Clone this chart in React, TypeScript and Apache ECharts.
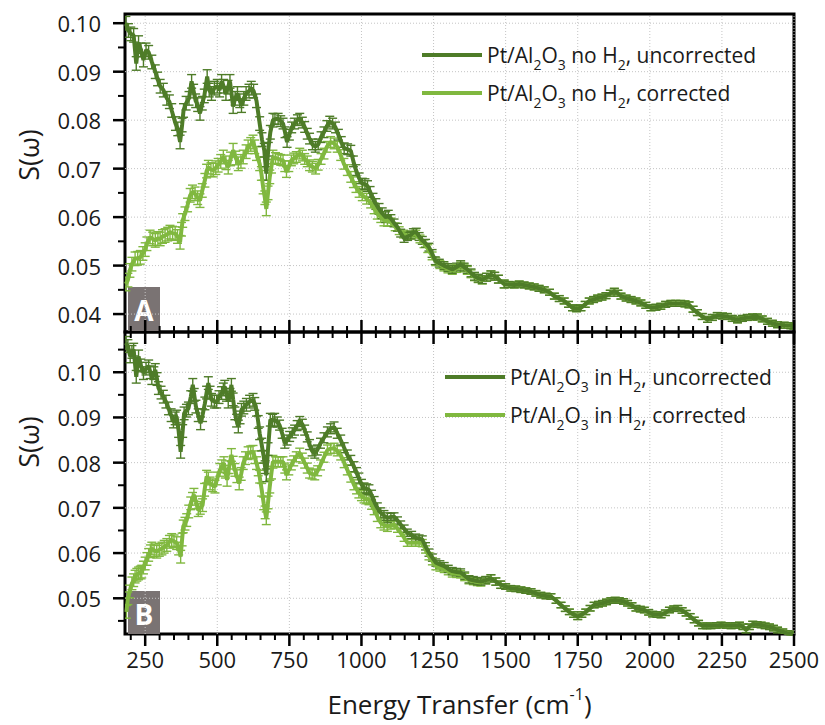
import React, { useEffect, useRef } from "react";
import * as echarts from "echarts";

type Pt = [number, number];

const FONT = "'Open Sans', 'Noto Sans', sans-serif";
const DARK = "#4E7C28";
const LIGHT = "#80B83F";
const INK = "#1a1a1a";

// Axis ranges and tick values
const xRange: Pt = [180, 2500];
const yRangeA: Pt = [0.0363, 0.1019];
const yRangeB: Pt = [0.0421, 0.1089];
const xTicks = [250, 500, 750, 1000, 1250, 1500, 1750, 2000, 2250, 2500];
const xMinorTicks = [
  200, 300, 350, 400, 450, 550, 600, 650, 700, 800, 850, 900, 950, 1050, 1100, 1150, 1200,
  1300, 1350, 1400, 1450, 1550, 1600, 1650, 1700, 1800, 1850, 1900, 1950, 2050, 2100, 2150,
  2200, 2300, 2350, 2400, 2450,
];
const yTicksA = [0.04, 0.05, 0.06, 0.07, 0.08, 0.09, 0.1];
const yMinorTicksA = [0.045, 0.055, 0.065, 0.075, 0.085, 0.095];
const yTicksB = [0.05, 0.06, 0.07, 0.08, 0.09, 0.1];
const yMinorTicksB = [0.045, 0.055, 0.065, 0.075, 0.085, 0.095, 0.105];

// Error-bar half widths by energy band: [band start (cm-1), sigma]
const errorBands: Pt[] = [
  [180, 0.0014],
  [700, 0.0011],
  [1100, 0.0008],
  [1500, 0.0006],
];

const namesA = ["Pt/Al2O3 no H2, uncorrected", "Pt/Al2O3 no H2, corrected"];
const namesB = ["Pt/Al2O3 in H2, uncorrected", "Pt/Al2O3 in H2, corrected"];
const legendLabels: Record<string, string> = {
  "Pt/Al2O3 no H2, uncorrected": "Pt/Al{sub|2}O{sub|3} no H{sub|2}, uncorrected",
  "Pt/Al2O3 no H2, corrected": "Pt/Al{sub|2}O{sub|3} no H{sub|2}, corrected",
  "Pt/Al2O3 in H2, uncorrected": "Pt/Al{sub|2}O{sub|3} in H{sub|2}, uncorrected",
  "Pt/Al2O3 in H2, corrected": "Pt/Al{sub|2}O{sub|3} in H{sub|2}, corrected",
};

// Panel A: Pt/Al2O3 without H2
const aUncorrectedHead: Pt[] = [
  [183, 0.1], [192, 0.0985], [200, 0.0978], [210, 0.0975], [219, 0.0917], [227, 0.096],
  [235, 0.0945], [244, 0.0924], [253, 0.0945], [262, 0.094], [273, 0.092], [285, 0.09],
  [293, 0.0885], [302, 0.087], [313, 0.0862], [325, 0.0845], [334, 0.0838], [342, 0.082],
  [355, 0.0793], [363, 0.0782], [371, 0.0755], [378, 0.079], [383, 0.082], [392, 0.0835],
  [402, 0.0845], [411, 0.088], [418, 0.086], [425, 0.084], [432, 0.0832], [440, 0.0814],
  [448, 0.0835], [455, 0.085], [465, 0.089], [472, 0.0862], [480, 0.0855], [490, 0.0866],
  [500, 0.087], [508, 0.0862], [515, 0.088], [522, 0.087], [530, 0.0855], [537, 0.0868],
  [544, 0.088], [555, 0.0828], [562, 0.0845], [570, 0.0855], [578, 0.084], [584, 0.083],
  [592, 0.0845], [600, 0.0855], [610, 0.086], [618, 0.0866], [626, 0.086], [636, 0.084],
  [647, 0.0793], [655, 0.076], [663, 0.0738], [670, 0.069], [677, 0.074], [684, 0.0775],
  [693, 0.08], [700, 0.0802], [711, 0.0803], [720, 0.0798], [728, 0.0793], [735, 0.0775],
  [742, 0.0755], [750, 0.077], [758, 0.0785], [768, 0.0793], [778, 0.08], [786, 0.0803],
  [795, 0.0795], [803, 0.0786], [812, 0.0772], [820, 0.0762], [830, 0.075], [840, 0.0745],
  [850, 0.075], [860, 0.0765], [870, 0.0775], [880, 0.0788], [890, 0.0797], [900, 0.0793],
  [910, 0.0785], [920, 0.077], [930, 0.0755], [940, 0.0742], [952, 0.074], [963, 0.0737],
  [972, 0.0715], [981, 0.0697], [992, 0.068], [1003, 0.0669], [1012, 0.0668], [1021, 0.0664],
  [1030, 0.0652], [1040, 0.0638], [1050, 0.0627], [1061, 0.0617], [1072, 0.0608], [1084, 0.06],
  [1093, 0.0603], [1102, 0.0597], [1113, 0.0588], [1125, 0.0579], [1136, 0.0567], [1148, 0.0556],
  [1160, 0.056], [1171, 0.0563], [1180, 0.0568], [1190, 0.0569], [1200, 0.056], [1211, 0.0552],
  [1222, 0.0546], [1234, 0.0538], [1245, 0.0525], [1256, 0.051], [1270, 0.0505], [1286, 0.05],
  [1300, 0.0496], [1315, 0.0492], [1330, 0.0497], [1344, 0.0502], [1356, 0.0497], [1367, 0.0492],
  [1380, 0.0485], [1392, 0.0478], [1405, 0.0474], [1419, 0.0471],
];
const aCorrectedHead: Pt[] = [
  [183, 0.0462], [190, 0.047], [197, 0.049], [204, 0.0503], [215, 0.0514], [224, 0.0515],
  [233, 0.0517], [242, 0.0525], [250, 0.0533], [256, 0.0545], [267, 0.0559], [276, 0.0555],
  [285, 0.0552], [294, 0.0556], [302, 0.0555], [310, 0.056], [319, 0.0562], [328, 0.0565],
  [336, 0.0569], [345, 0.0567], [354, 0.0566], [362, 0.056], [371, 0.0548], [376, 0.0575],
  [380, 0.0593], [388, 0.0607], [397, 0.0625], [406, 0.0645], [414, 0.0652], [423, 0.0648],
  [432, 0.064], [440, 0.0634], [448, 0.0655], [457, 0.0676], [463, 0.0695], [469, 0.0703],
  [478, 0.0698], [486, 0.0697], [495, 0.0702], [503, 0.0707], [512, 0.0715], [521, 0.0724],
  [530, 0.0712], [538, 0.0703], [546, 0.072], [555, 0.0738], [564, 0.0722], [573, 0.071],
  [582, 0.0715], [590, 0.0724], [600, 0.0735], [607, 0.0745], [616, 0.075], [624, 0.0755],
  [630, 0.0745], [636, 0.0731], [647, 0.071], [653, 0.069], [659, 0.0662], [665, 0.064],
  [670, 0.0617], [676, 0.065], [682, 0.0683], [688, 0.0705], [693, 0.0724], [702, 0.0722],
  [711, 0.072], [720, 0.0718], [728, 0.0717], [734, 0.0705], [740, 0.0693], [748, 0.0705],
  [757, 0.0717], [765, 0.0721], [774, 0.0724], [786, 0.0731], [795, 0.0727], [803, 0.072],
  [812, 0.0715], [820, 0.0707], [830, 0.0704], [841, 0.07], [850, 0.0708], [860, 0.072],
  [870, 0.0731], [880, 0.0745], [893, 0.0755], [905, 0.0752], [916, 0.0745], [928, 0.0728],
  [939, 0.071], [951, 0.0697], [963, 0.0683], [972, 0.0672], [981, 0.0662], [992, 0.0652],
  [1003, 0.0645], [1018, 0.0638], [1032, 0.063], [1044, 0.0618], [1055, 0.0607], [1067, 0.06],
  [1078, 0.0593], [1090, 0.0592], [1102, 0.059], [1117, 0.058], [1131, 0.0572], [1146, 0.0565],
  [1160, 0.0562], [1174, 0.0563], [1188, 0.0565], [1203, 0.0555], [1217, 0.0545], [1230, 0.0535],
  [1245, 0.052], [1258, 0.0508], [1272, 0.0502], [1286, 0.0497], [1300, 0.0493], [1315, 0.049],
  [1330, 0.0494], [1344, 0.0499], [1356, 0.0495], [1367, 0.049], [1380, 0.0483], [1392, 0.0477],
  [1405, 0.0473], [1419, 0.047],
];
// Above ~1430 cm-1 both spectra of panel A coincide
const aTail: Pt[] = [
  [1434, 0.0476], [1449, 0.0481], [1462, 0.0478], [1475, 0.0472], [1495, 0.0462], [1512, 0.0461],
  [1530, 0.046], [1547, 0.0462], [1564, 0.046], [1582, 0.0458], [1599, 0.0456], [1616, 0.0453],
  [1634, 0.045], [1652, 0.0445], [1669, 0.0437], [1686, 0.0432], [1703, 0.0427], [1718, 0.042],
  [1732, 0.0413], [1746, 0.0411], [1761, 0.0413], [1776, 0.042], [1790, 0.0427], [1805, 0.043],
  [1819, 0.0433], [1834, 0.0435], [1848, 0.0438], [1863, 0.0443], [1877, 0.0447], [1889, 0.0443],
  [1900, 0.0437], [1918, 0.0433], [1935, 0.043], [1952, 0.0427], [1969, 0.0423], [1986, 0.0418],
  [2004, 0.0413], [2021, 0.0414], [2038, 0.0416], [2055, 0.042], [2073, 0.0422], [2090, 0.0422],
  [2107, 0.0422], [2122, 0.0421], [2136, 0.0419], [2150, 0.041], [2165, 0.0403], [2182, 0.0395],
  [2200, 0.0389], [2217, 0.0393], [2234, 0.0397], [2252, 0.0396], [2269, 0.0395], [2286, 0.0391],
  [2304, 0.0388], [2321, 0.0391], [2338, 0.0393], [2356, 0.0394], [2373, 0.0394], [2390, 0.039],
  [2408, 0.0385], [2425, 0.0381], [2443, 0.0378], [2466, 0.0377], [2489, 0.0376], [2500, 0.0375],
];

// Panel B: Pt/Al2O3 in H2
const bUncorrectedHead: Pt[] = [
  [183, 0.1065], [190, 0.1058], [198, 0.1035], [204, 0.1045], [210, 0.105], [219, 0.099],
  [227, 0.1035], [235, 0.1015], [244, 0.0998], [253, 0.1008], [262, 0.1013], [268, 0.1],
  [273, 0.0987], [280, 0.0998], [285, 0.1005], [291, 0.0985], [296, 0.0965], [305, 0.0955],
  [313, 0.0946], [322, 0.0935], [331, 0.092], [340, 0.0905], [348, 0.0891], [354, 0.0898],
  [359, 0.0902], [366, 0.087], [373, 0.0824], [380, 0.087], [385, 0.0909], [393, 0.0915],
  [400, 0.092], [408, 0.0945], [415, 0.0972], [420, 0.095], [426, 0.0924], [434, 0.0905],
  [442, 0.0887], [449, 0.0905], [457, 0.0931], [463, 0.0955], [469, 0.0976], [475, 0.0955],
  [480, 0.0939], [490, 0.0935], [498, 0.0935], [506, 0.0945], [515, 0.0954], [521, 0.0962],
  [526, 0.0968], [532, 0.095], [538, 0.0935], [544, 0.095], [549, 0.0972], [555, 0.094],
  [561, 0.0909], [567, 0.0893], [573, 0.088], [579, 0.09], [584, 0.0917], [592, 0.0922],
  [601, 0.0928], [612, 0.0935], [624, 0.0939], [630, 0.093], [636, 0.0917], [642, 0.089],
  [647, 0.0865], [654, 0.084], [661, 0.0813], [666, 0.079], [670, 0.0772], [676, 0.083],
  [684, 0.0895], [692, 0.0893], [699, 0.0895], [708, 0.089], [716, 0.0883], [725, 0.0865],
  [734, 0.0843], [742, 0.085], [751, 0.0858], [760, 0.0866], [768, 0.0872], [777, 0.0882],
  [786, 0.0891], [795, 0.0885], [803, 0.0872], [812, 0.0857], [820, 0.084], [829, 0.0826],
  [838, 0.0821], [847, 0.0828], [858, 0.0843], [870, 0.0855], [882, 0.0868], [893, 0.0875],
  [905, 0.0879], [916, 0.0865], [928, 0.085], [940, 0.0833], [951, 0.0817], [963, 0.0805],
  [974, 0.0791], [983, 0.0778], [991, 0.0766], [1000, 0.0752], [1009, 0.0744], [1018, 0.0742],
  [1026, 0.074], [1035, 0.0728], [1044, 0.0714], [1055, 0.07], [1067, 0.0689], [1078, 0.0683],
  [1090, 0.0678], [1102, 0.068], [1113, 0.0681], [1125, 0.0672], [1136, 0.0663], [1148, 0.0654],
  [1159, 0.0645], [1174, 0.064], [1188, 0.0634], [1200, 0.0632], [1211, 0.063], [1222, 0.0615],
  [1234, 0.0601], [1246, 0.059], [1258, 0.0579], [1272, 0.0575], [1287, 0.0571], [1301, 0.0565],
  [1315, 0.056], [1330, 0.0558], [1344, 0.0557], [1358, 0.055], [1373, 0.0542], [1388, 0.054],
  [1402, 0.0538], [1414, 0.0537],
];
const bCorrectedHead: Pt[] = [
  [185, 0.047], [190, 0.05], [196, 0.0515], [204, 0.0533], [210, 0.054], [215, 0.0548],
  [221, 0.0552], [227, 0.0555], [233, 0.0557], [238, 0.0559], [244, 0.0568], [250, 0.0577],
  [256, 0.0587], [262, 0.0596], [268, 0.0604], [273, 0.061], [281, 0.0606], [290, 0.0603],
  [299, 0.0607], [308, 0.061], [316, 0.0614], [325, 0.0618], [334, 0.0625], [342, 0.0629],
  [350, 0.0626], [359, 0.0622], [366, 0.061], [373, 0.0592], [378, 0.063], [382, 0.0659],
  [388, 0.0665], [394, 0.0673], [401, 0.0692], [408, 0.071], [414, 0.072], [419, 0.0729],
  [427, 0.0712], [434, 0.0695], [441, 0.07], [449, 0.0706], [456, 0.074], [463, 0.0769],
  [469, 0.0765], [475, 0.0754], [484, 0.075], [492, 0.0747], [500, 0.0765], [509, 0.0784],
  [516, 0.0792], [523, 0.0799], [528, 0.078], [534, 0.0762], [541, 0.079], [549, 0.0817],
  [555, 0.08], [561, 0.0784], [568, 0.077], [576, 0.0754], [583, 0.0775], [590, 0.0799],
  [598, 0.081], [607, 0.0821], [616, 0.0823], [624, 0.0824], [630, 0.0812], [636, 0.0799],
  [642, 0.0785], [647, 0.0769], [654, 0.074], [661, 0.071], [666, 0.069], [670, 0.0677],
  [676, 0.0712], [682, 0.0747], [688, 0.0778], [693, 0.0802], [702, 0.0802], [711, 0.0802],
  [720, 0.0802], [728, 0.0802], [734, 0.0788], [740, 0.0773], [748, 0.0784], [757, 0.0795],
  [765, 0.0804], [774, 0.0813], [786, 0.0821], [795, 0.081], [803, 0.0799], [812, 0.0788],
  [820, 0.0777], [829, 0.0775], [838, 0.0773], [848, 0.0782], [858, 0.0795], [870, 0.0812],
  [882, 0.0828], [893, 0.0831], [905, 0.0832], [916, 0.0826], [928, 0.0817], [940, 0.08],
  [951, 0.0784], [963, 0.0768], [974, 0.0751], [983, 0.0742], [991, 0.0733], [1000, 0.0727],
  [1009, 0.0722], [1018, 0.072], [1026, 0.0718], [1035, 0.0708], [1044, 0.0696], [1055, 0.0681],
  [1067, 0.0667], [1078, 0.0662], [1090, 0.0659], [1102, 0.0661], [1113, 0.0663], [1125, 0.0654],
  [1136, 0.0645], [1148, 0.0634], [1159, 0.0623], [1174, 0.0623], [1188, 0.0623], [1200, 0.0623],
  [1211, 0.0622], [1222, 0.0608], [1234, 0.0593], [1246, 0.0582], [1258, 0.0571], [1272, 0.0568],
  [1287, 0.0565], [1301, 0.056], [1315, 0.0555], [1330, 0.0554], [1344, 0.0553], [1358, 0.0547],
  [1373, 0.054], [1388, 0.0538], [1402, 0.0536], [1414, 0.0535],
];
// Above ~1430 cm-1 both spectra of panel B coincide
const bTail: Pt[] = [
  [1431, 0.054], [1449, 0.0544], [1466, 0.0537], [1483, 0.053], [1500, 0.0526], [1518, 0.0522],
  [1535, 0.0521], [1553, 0.0519], [1570, 0.0517], [1588, 0.0515], [1605, 0.0511], [1622, 0.0507],
  [1640, 0.0505], [1657, 0.0504], [1675, 0.0495], [1692, 0.0485], [1707, 0.0477], [1721, 0.047],
  [1736, 0.0464], [1750, 0.0459], [1764, 0.0464], [1778, 0.047], [1793, 0.0478], [1807, 0.0485],
  [1822, 0.0487], [1836, 0.0489], [1850, 0.0492], [1865, 0.0495], [1880, 0.0496], [1894, 0.0495],
  [1909, 0.0493], [1923, 0.0489], [1938, 0.0484], [1952, 0.0478], [1967, 0.0476], [1981, 0.0474],
  [1996, 0.0469], [2010, 0.0465], [2025, 0.0464], [2039, 0.0463], [2054, 0.0468], [2068, 0.0474],
  [2083, 0.0477], [2097, 0.0478], [2112, 0.0473], [2126, 0.0467], [2140, 0.046], [2154, 0.0452],
  [2169, 0.0445], [2183, 0.0439], [2198, 0.0439], [2212, 0.0439], [2230, 0.044], [2247, 0.0441],
  [2265, 0.044], [2282, 0.0439], [2297, 0.044], [2311, 0.0441], [2323, 0.0437], [2334, 0.043],
  [2345, 0.0437], [2357, 0.0443], [2372, 0.0442], [2386, 0.0441], [2400, 0.0439], [2415, 0.0437],
  [2429, 0.0434], [2443, 0.043], [2461, 0.0426], [2478, 0.0422], [2496, 0.0421],
];

const aUncorrected = aUncorrectedHead.concat(aTail);
const aCorrected = aCorrectedHead.concat(aTail);
const bUncorrected = bUncorrectedHead.concat(bTail);
const bCorrected = bCorrectedHead.concat(bTail);

function errorAt(e: number): number {
  let err = errorBands[0][1];
  for (const [start, val] of errorBands) if (e >= start) err = val;
  return err;
}

function errorBarSeries(data: Pt[], color: string, axis: number) {
  return {
    type: "custom",
    xAxisIndex: axis,
    yAxisIndex: axis,
    silent: true,
    clip: true,
    data: data.map(([e, s]) => [e, s, errorAt(e)]),
    renderItem: (_p: any, api: any) => {
      const x = api.value(0);
      const y = api.value(1);
      const err = api.value(2);
      const hi = api.coord([x, y + err]);
      const lo = api.coord([x, y - err]);
      const hw = 4.5;
      const style = { stroke: color, lineWidth: 1.4 };
      return {
        type: "group",
        children: [
          { type: "line", shape: { x1: hi[0], y1: hi[1], x2: lo[0], y2: lo[1] }, style },
          { type: "line", shape: { x1: hi[0] - hw, y1: hi[1], x2: hi[0] + hw, y2: hi[1] }, style },
          { type: "line", shape: { x1: lo[0] - hw, y1: lo[1], x2: lo[0] + hw, y2: lo[1] }, style },
        ],
      };
    },
  };
}

function lineSeries(name: string, data: Pt[], color: string, axis: number) {
  return {
    type: "line",
    name,
    data,
    xAxisIndex: axis,
    yAxisIndex: axis,
    showSymbol: false,
    symbol: "none",
    clip: true,
    lineStyle: { width: 4, color },
    itemStyle: { color },
  };
}

// Dotted grid lines at the major ticks
function gridLines(axis: number, yr: Pt, yTicks: number[]) {
  const style = { stroke: "#c4c4c4", lineWidth: 1, lineDash: [1, 2] };
  return [
    {
      type: "custom",
      xAxisIndex: axis,
      yAxisIndex: axis,
      silent: true,
      data: xTicks.map((v) => [v, yr[0]]),
      renderItem: (_p: any, api: any) => {
        const a = api.coord([api.value(0), yr[0]]);
        const b = api.coord([api.value(0), yr[1]]);
        return { type: "line", shape: { x1: a[0], y1: a[1], x2: b[0], y2: b[1] }, style };
      },
    },
    {
      type: "custom",
      xAxisIndex: axis,
      yAxisIndex: axis,
      silent: true,
      data: yTicks.map((v) => [xRange[0], v]),
      renderItem: (_p: any, api: any) => {
        const a = api.coord([xRange[0], api.value(1)]);
        const b = api.coord([xRange[1], api.value(1)]);
        return { type: "line", shape: { x1: a[0], y1: a[1], x2: b[0], y2: b[1] }, style };
      },
    },
  ];
}

// Tick marks anchored on a panel edge; dx/dy give direction and length in pixels
function tickMarks(
  axis: number,
  values: number[],
  anchor: (v: number) => number[],
  dx: number,
  dy: number,
  width: number
) {
  return {
    type: "custom",
    xAxisIndex: axis,
    yAxisIndex: axis,
    silent: true,
    clip: false,
    z: 5,
    data: values.map((v) => [v, v]),
    renderItem: (_p: any, api: any) => {
      const p = api.coord(anchor(api.value(0)));
      return {
        type: "line",
        shape: { x1: p[0], y1: p[1], x2: p[0] + dx, y2: p[1] + dy },
        style: { stroke: "#000", lineWidth: width },
      };
    },
  };
}

function xAxisBase(gridIndex: number) {
  return {
    type: "value",
    gridIndex,
    min: xRange[0],
    max: xRange[1],
    splitLine: { show: false },
    axisLine: { show: false, onZero: false },
    axisTick: { show: false },
  };
}

function yAxisBase(gridIndex: number, yr: Pt, ticks: number[]) {
  return {
    type: "value",
    gridIndex,
    min: yr[0],
    max: yr[1],
    position: "left",
    splitLine: { show: false },
    axisLine: { show: false, onZero: false },
    axisTick: { show: false },
    axisLabel: {
      customValues: ticks,
      formatter: (v: number) => v.toFixed(2),
      margin: 24,
      fontSize: 22,
      color: INK,
      fontFamily: FONT,
    },
  };
}

function legend(names: string[], left: number, top: number) {
  return {
    data: names,
    orient: "vertical",
    left,
    top,
    icon: "rect",
    itemWidth: 60,
    itemHeight: 4,
    itemGap: 6,
    selectedMode: false,
    formatter: (name: string) => legendLabels[name],
    textStyle: {
      fontSize: 21,
      lineHeight: 32,
      color: INK,
      fontFamily: FONT,
      rich: {
        sub: { fontSize: 14, lineHeight: 14, verticalAlign: "bottom", color: INK, fontFamily: FONT },
      },
    },
  };
}

function panelTag(letter: string, x: number, y: number, h: number) {
  return {
    type: "group",
    z: 20,
    children: [
      { type: "rect", shape: { x, y, width: 32, height: h }, style: { fill: "#7a7373" } },
      {
        type: "text",
        x: x + 16,
        y: y + h / 2 + 1,
        style: {
          text: letter,
          fill: "#ffffff",
          font: `bold 28px ${FONT}`,
          textAlign: "center",
          textVerticalAlign: "middle",
        },
      },
    ],
  };
}

function yTitle(y: number) {
  return {
    type: "text",
    x: 28,
    y,
    rotation: Math.PI / 2,
    style: {
      text: "S(ω)",
      fill: INK,
      font: `27px ${FONT}`,
      textAlign: "center",
      textVerticalAlign: "middle",
    },
  };
}

function buildOption() {
  return {
    animation: false,
    backgroundColor: "#ffffff",
    grid: [
      { left: 125, top: 14, width: 669, height: 318, show: true, borderColor: "#000", borderWidth: 3, backgroundColor: "transparent" },
      { left: 125, top: 332, width: 669, height: 302, show: true, borderColor: "#000", borderWidth: 3, backgroundColor: "transparent" },
    ],
    xAxis: [
      { ...xAxisBase(0), position: "bottom", axisLabel: { show: false } },
      {
        ...xAxisBase(1),
        position: "bottom",
        axisLabel: {
          customValues: xTicks,
          formatter: (v: number) => String(v),
          margin: 14,
          fontSize: 22,
          color: INK,
          fontFamily: FONT,
        },
        name: "Energy Transfer (cm{sup|-1})",
        nameLocation: "middle",
        nameGap: 52,
        nameTextStyle: {
          fontSize: 26,
          lineHeight: 36,
          color: INK,
          fontFamily: FONT,
          rich: { sup: { fontSize: 16, lineHeight: 16, verticalAlign: "top", color: INK, fontFamily: FONT } },
        },
      },
    ],
    yAxis: [yAxisBase(0, yRangeA, yTicksA), yAxisBase(1, yRangeB, yTicksB)],
    legend: [legend(namesA, 417, 34), legend(namesB, 440, 356)],
    graphic: [yTitle(155), yTitle(442), panelTag("A", 128, 287, 44), panelTag("B", 128, 591, 43)],
    series: [
      ...gridLines(0, yRangeA, yTicksA),
      ...gridLines(1, yRangeB, yTicksB),
      errorBarSeries(aCorrected, LIGHT, 0),
      lineSeries(namesA[1], aCorrected, LIGHT, 0),
      errorBarSeries(aUncorrected, DARK, 0),
      lineSeries(namesA[0], aUncorrected, DARK, 0),
      errorBarSeries(bCorrected, LIGHT, 1),
      lineSeries(namesB[1], bCorrected, LIGHT, 1),
      errorBarSeries(bUncorrected, DARK, 1),
      lineSeries(namesB[0], bUncorrected, DARK, 1),
      // panel A: x ticks pointing up from the shared edge, y ticks outward
      tickMarks(0, xTicks, (v) => [v, yRangeA[0]], 0, -12, 2.5),
      tickMarks(0, xMinorTicks, (v) => [v, yRangeA[0]], 0, -6, 2),
      tickMarks(0, yTicksA, (v) => [xRange[0], v], -12, 0, 2.5),
      tickMarks(0, yMinorTicksA, (v) => [xRange[0], v], -7, 0, 2),
      // panel B: inward ticks on the top edge, outward on bottom and left
      tickMarks(1, xTicks, (v) => [v, yRangeB[1]], 0, 12, 2.5),
      tickMarks(1, xMinorTicks, (v) => [v, yRangeB[1]], 0, 6, 2),
      tickMarks(1, xTicks, (v) => [v, yRangeB[0]], 0, 12, 2.5),
      tickMarks(1, xMinorTicks, (v) => [v, yRangeB[0]], 0, 6, 2),
      tickMarks(1, yTicksB, (v) => [xRange[0], v], -12, 0, 2.5),
      tickMarks(1, yMinorTicksB, (v) => [xRange[0], v], -7, 0, 2),
    ],
  };
}

export default function App() {
  const ref = useRef<HTMLDivElement>(null);
  useEffect(() => {
    if (!ref.current) return;
    const chart = echarts.init(ref.current, null, { renderer: "svg" });
    chart.setOption(buildOption() as any);
    return () => chart.dispose();
  }, []);
  return (
    <div
      ref={ref}
      style={{ position: "fixed", left: 0, top: 0, width: 825, height: 725, background: "#fff" }}
    />
  );
}
